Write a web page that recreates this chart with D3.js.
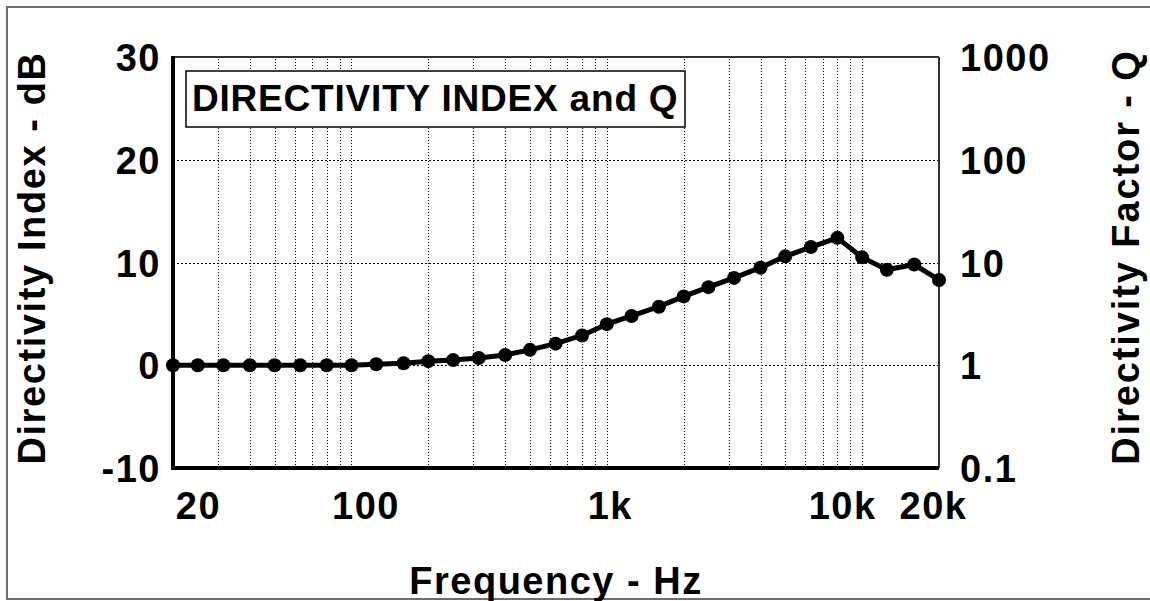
<!DOCTYPE html>
<html>
<head>
<meta charset="utf-8">
<script src="https://cdn.jsdelivr.net/npm/d3@7"></script>
<style>
  html, body { margin: 0; padding: 0; background: #fff; }
  svg { display: block; }
  text { font-family: "Liberation Sans", Arial, sans-serif; font-weight: bold; fill: #000; }
</style>
</head>
<body>
<div id="chart"></div>
<script>
/* Directivity index vs frequency, 1/3 octave points */
const freqHz = [20, 25, 31.5, 40, 50, 63, 80, 100, 125, 160, 200, 250, 315, 400, 500, 630,
  800, 1000, 1250, 1600, 2000, 2500, 3150, 4000, 5000, 6300, 8000, 10000, 12500, 16000, 20000];
const diDb = [0, 0, 0, 0, 0, 0, 0, 0, 0.1, 0.2, 0.4, 0.5, 0.7, 1.0, 1.5, 2.1,
  2.9, 4.0, 4.8, 5.7, 6.7, 7.6, 8.5, 9.5, 10.6, 11.5, 12.4, 10.5, 9.3, 9.8, 8.3];

const xLabelValues = [20, 100, 1000, 10000, 20000];
const xLabelText = ["20", "100", "1k", "10k", "20k"];
const dbTicks = [-10, 0, 10, 20, 30];
const qTicks = [0.1, 1, 10, 100, 1000];

const titleText = "DIRECTIVITY INDEX and Q";
const xTitle = "Frequency - Hz";
const yTitle = "Directivity Index - dB";
const y2Title = "Directivity Factor - Q";

function styleTicks(a) {
  a.selectAll("text")
    .attr("fill", "#000")
    .style("font-family", "'Liberation Sans', Arial, sans-serif")
    .style("font-weight", "bold").style("font-size", "38px")
    .style("letter-spacing", "1.5px");
}

function drawChart() {
  const W = 1150, H = 601;
  const plot = { left: 173, top: 57, right: 939, bottom: 468 };
  const w = plot.right - plot.left;
  const h = plot.bottom - plot.top;

  const svg = d3.select("#chart").append("svg")
    .attr("width", W).attr("height", H);

  /* outer frame */
  svg.append("rect")
    .attr("x", 7).attr("y", 7).attr("width", W + 20).attr("height", 592)
    .attr("fill", "none").attr("stroke", "#6e6e6e").attr("stroke-width", 2);

  const g = svg.append("g").attr("transform", `translate(${plot.left},${plot.top})`);

  /* scales */
  const x = d3.scaleLog().domain([20, 20000]).range([0, w]);
  const y = d3.scaleLinear().domain([-10, 30]).range([h, 0]);
  const yQ = d3.scaleLog().domain([0.1, 1000]).range([h, 0]);

  /* vertical grid */
  g.append("g")
    .attr("transform", `translate(0,${h})`)
    .call(d3.axisBottom(x).tickValues(x.ticks().filter(d => d > 20 && d < 20000))
      .tickSize(-h).tickFormat(""))
    .call(a => a.select(".domain").remove())
    .call(a => a.selectAll("line")
      .attr("stroke", "#000").attr("stroke-width", 1)
      .attr("shape-rendering", "crispEdges")
      .attr("stroke-dasharray", "1.5,1.5"));

  /* horizontal grid */
  g.append("g")
    .call(d3.axisLeft(y).tickValues(dbTicks.filter(d => d > -10 && d < 30))
      .tickSize(-w).tickFormat(""))
    .call(a => a.select(".domain").remove())
    .call(a => a.selectAll("line")
      .attr("stroke", "#000").attr("stroke-width", 1)
      .attr("shape-rendering", "crispEdges")
      .attr("stroke-dasharray", "1.5,2.5"));

  /* plot frame: thin top/right, heavy left/bottom */
  g.append("line").attr("x1", 0).attr("x2", w).attr("y1", 0).attr("y2", 0)
    .attr("stroke", "#333").attr("stroke-width", 2);
  g.append("line").attr("x1", w).attr("x2", w).attr("y1", 0).attr("y2", h)
    .attr("stroke", "#333").attr("stroke-width", 2);
  g.append("line").attr("x1", 0).attr("x2", 0).attr("y1", -1).attr("y2", h + 2)
    .attr("stroke", "#000").attr("stroke-width", 4);
  g.append("line").attr("x1", -2).attr("x2", w).attr("y1", h).attr("y2", h)
    .attr("stroke", "#000").attr("stroke-width", 4);

  /* left tick labels */
  g.append("g")
    .call(d3.axisLeft(y).tickValues(dbTicks).tickSize(0).tickPadding(12).tickFormat(d => d))
    .call(a => a.select(".domain").remove())
    .call(styleTicks)
    .call(a => a.selectAll("text").attr("dy", "0.36em"));

  /* right tick labels */
  g.append("g")
    .attr("transform", `translate(${w},0)`)
    .call(d3.axisRight(yQ).tickValues(qTicks).tickSize(0).tickPadding(21).tickFormat(d => d))
    .call(a => a.select(".domain").remove())
    .call(styleTicks)
    .call(a => a.selectAll("text").attr("dy", "0.36em"));

  /* bottom tick labels, nudged like the original */
  const labelNudge = [25, 14, 3, -20, -6];
  g.append("g")
    .attr("transform", `translate(0,${h})`)
    .call(d3.axisBottom(x).tickValues(xLabelValues).tickSize(0).tickPadding(24)
      .tickFormat((d, i) => xLabelText[i]))
    .call(a => a.select(".domain").remove())
    .call(styleTicks)
    .call(a => a.selectAll("text").attr("dx", (d, i) => labelNudge[i]));

  /* data line and points */
  const pts = freqHz.map((f, i) => ({ f, v: diDb[i] }));
  g.append("path")
    .datum(pts)
    .attr("fill", "none").attr("stroke", "#000").attr("stroke-width", 5)
    .attr("stroke-linejoin", "round")
    .attr("d", d3.line().x(d => x(d.f)).y(d => y(d.v)));
  g.selectAll("circle.pt")
    .data(pts)
    .join("circle")
      .attr("class", "pt")
      .attr("cx", d => x(d.f)).attr("cy", d => y(d.v))
      .attr("r", 7).attr("fill", "#000");

  /* title box */
  svg.append("rect")
    .attr("x", 186).attr("y", 71).attr("width", 499).attr("height", 56)
    .attr("fill", "#fff").attr("stroke", "#000").attr("stroke-width", 1.5);
  svg.append("text")
    .attr("x", 192).attr("y", 111)
    .style("font-size", "37px").style("letter-spacing", "0.8px")
    .text(titleText);

  /* axis titles */
  svg.append("text")
    .attr("x", 556).attr("y", 594)
    .attr("text-anchor", "middle")
    .style("font-size", "38px").style("letter-spacing", "1.5px")
    .text(xTitle);

  svg.append("text")
    .attr("transform", "translate(45,258) rotate(-90)")
    .attr("text-anchor", "middle")
    .style("font-size", "38px").style("letter-spacing", "1.6px")
    .text(yTitle);

  svg.append("text")
    .attr("transform", "translate(1139,257) rotate(-90)")
    .attr("text-anchor", "middle")
    .style("font-size", "38px").style("letter-spacing", "1.9px")
    .text(y2Title);
}

drawChart();
</script>
</body>
</html>
